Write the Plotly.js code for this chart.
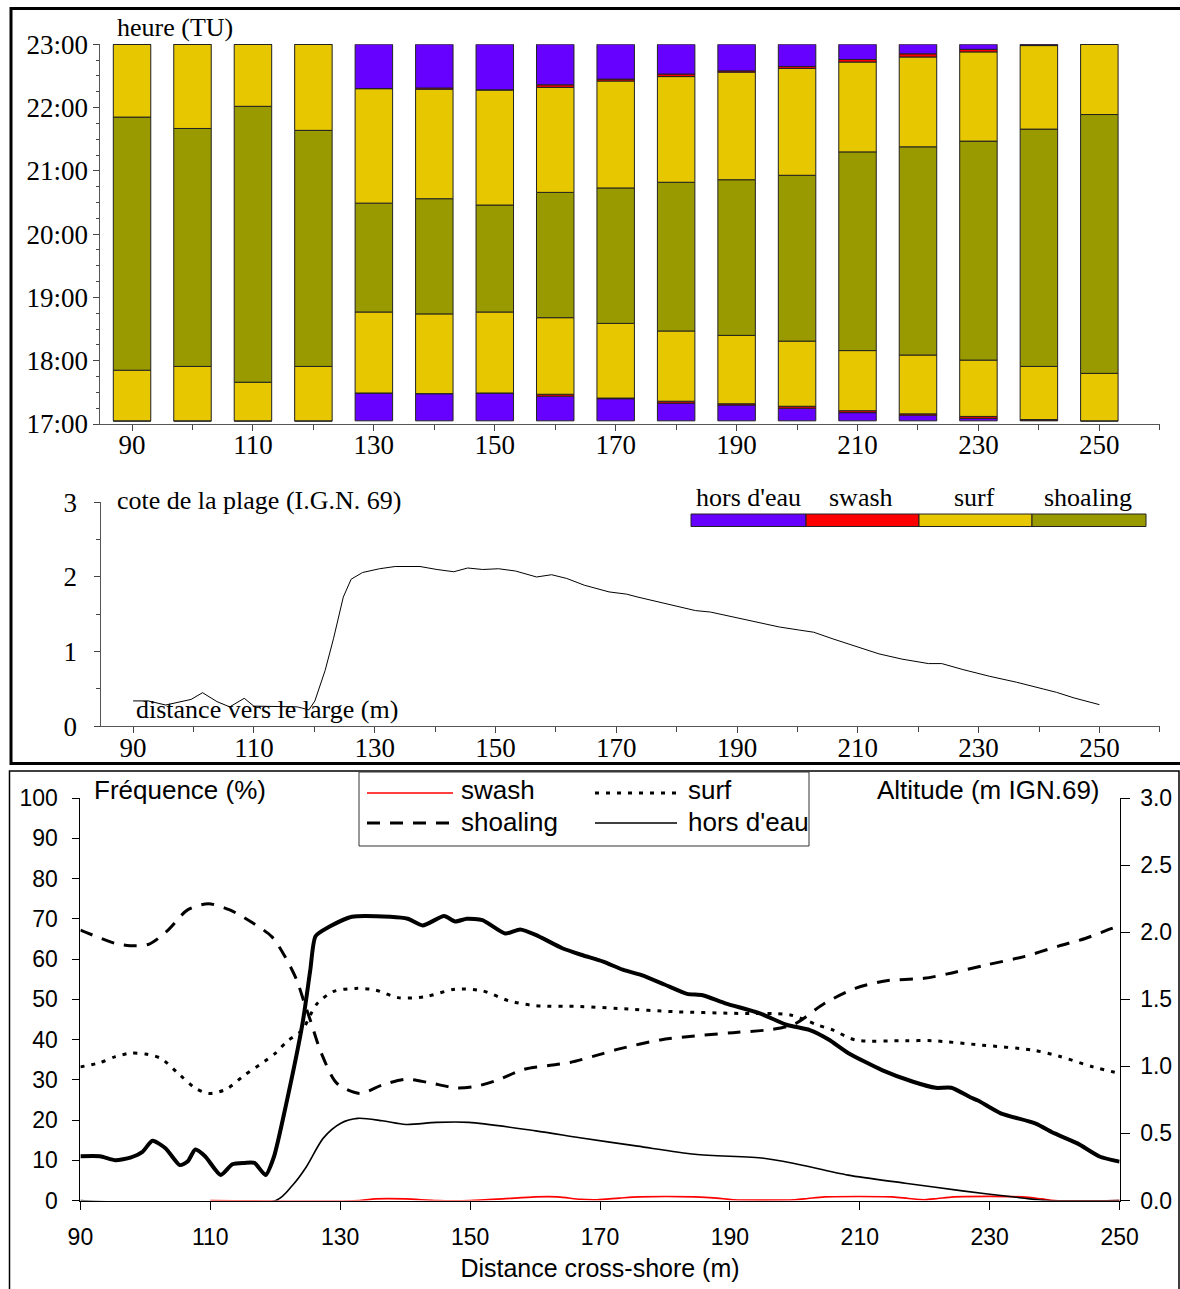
<!DOCTYPE html>
<html>
<head>
<meta charset="utf-8">
<script src="https://cdn.plot.ly/plotly-3.0.1.min.js"></script>
<style>html,body{margin:0;padding:0;background:#fff;}#chart{width:1180px;height:1289px;}</style>
</head>
<body>
<div id="chart"></div>
<script>
// ---------- DATA ----------
// Top panel: hydrodynamic zone sequence per cross-shore position (hours, decimal)
const distances = [90,100,110,120,130,140,150,160,170,180,190,200,210,220,230,240,250];
const distTickLabels = [90,110,130,150,170,190,210,230,250];
const hourTicks = [17,18,19,20,21,22,23];
const hourTickText = ['17:00','18:00','19:00','20:00','21:00','22:00','23:00'];
const tStart = 17.05;
const tEnd = 23.0;
const lowDryEnd   = [17.05,17.05,17.05,17.05,17.49,17.48,17.49,17.44,17.40,17.33,17.30,17.25,17.18,17.14,17.09,17.06,17.05];
const lowSwashEnd = [17.05,17.05,17.05,17.05,17.49,17.48,17.49,17.47,17.41,17.36,17.32,17.28,17.21,17.16,17.12,17.07,17.05];
const lowSurfEnd  = [17.85,17.91,17.66,17.91,18.77,18.74,18.77,18.68,18.59,18.47,18.40,18.31,18.16,18.09,18.01,17.91,17.80];
const shoalEnd    = [21.85,21.67,22.02,21.64,20.49,20.56,20.46,20.66,20.73,20.82,20.86,20.93,21.30,21.38,21.47,21.66,21.89];
const highSurfEnd = [23,23,23,23,22.30,22.29,22.28,22.32,22.42,22.49,22.56,22.62,22.72,22.80,22.88,22.98,23];
const highSwashEnd= [23,23,23,23,22.30,22.31,22.28,22.36,22.45,22.53,22.58,22.65,22.76,22.85,22.92,22.99,23];
const zoneNames = ["hors d'eau","swash","surf","shoaling"];

// Middle panel: beach profile (m IGN 69)
const profDist = [90,92.5,95.4,97.6,99.6,101.5,103.9,106.0,108.4,110.0,112.5,115.0,117.2,119.1,120.1,121.8,123.2,124.8,126.1,128.0,130.8,133.4,137.5,140.3,143.1,145.4,147.9,150.5,153.3,156.8,159.3,161.8,164.7,168.8,171.7,173.6,177.4,181.2,183.1,185.6,189.4,193.2,197.0,200.2,202.7,205.9,209.7,213.5,217.3,221.7,223.9,227.4,231.8,236.3,240.7,242.9,245.8,250.0];
const profElev = [0.34,0.34,0.285,0.32,0.36,0.45,0.33,0.26,0.375,0.27,0.27,0.27,0.26,0.22,0.34,0.75,1.18,1.73,1.97,2.06,2.11,2.14,2.14,2.10,2.07,2.12,2.10,2.11,2.08,2.00,2.03,1.98,1.89,1.80,1.77,1.73,1.655,1.58,1.55,1.53,1.46,1.40,1.33,1.29,1.26,1.17,1.07,0.97,0.90,0.84,0.84,0.76,0.67,0.59,0.50,0.455,0.38,0.29];

// Bottom panel: frequencies (%) and altitude (m IGN.69)
const swDist = [110,133,135.4,140,145,150,155,160,163.5,167,169.5,173,176,184.6,188,190.5,200,202,204.6,215,217.5,220,222,224.5,235,238,240,250];
const swVal  = [0,0,0.4,0.4,0,0,0.4,0.9,0.9,0.3,0.2,0.6,0.9,0.9,0.6,0.2,0.2,0.5,0.9,0.9,0.5,0.2,0.5,0.9,0.9,0.4,0,0];
const sfDist = [90,92.9,95.3,97.7,100.0,102.4,105.3,107.7,109.7,112.4,115.3,118.3,120.1,121.8,124.2,125.4,126.5,128.9,132.4,135.4,138.9,143.0,147.7,151.9,156.0,160.1,166.9,172.8,181.6,190.5,199.3,203.5,205.8,209.3,217.0,221.1,228.8,236.5,240.6,245.9,250];
const sfVal  = [33.2,34.2,35.7,36.6,36.4,35.3,31.2,27.9,26.6,27.6,31.2,34.5,36.7,39.5,42.4,46.1,49.0,51.9,52.7,52.3,50.4,50.6,52.5,52.1,49.6,48.4,48.2,47.7,46.9,46.5,46.1,43.6,42.4,39.9,39.7,39.7,38.6,37.4,35.9,33.2,31.6];
const shDist = [90,95.3,97.7,100.6,103.5,106.5,109.7,113.0,116.5,119.5,121.5,123.3,124.5,125.4,127.1,129.5,133.0,136.5,140.1,143.6,147.7,150.7,154.2,158.3,161.9,165.4,170.0,172.8,179.3,184.6,190.5,196.4,199.9,204.6,209.3,214.1,219.9,223.5,229.4,235.3,240.6,244.7,248.8,250];
const shVal  = [67.2,63.9,63.3,63.7,67.2,72.2,73.7,72.2,69.0,65.5,60.6,54.8,49.0,44.8,36.6,29.1,26.6,28.7,30.1,29.3,28.0,28.3,29.9,32.6,33.5,34.3,36.3,37.6,39.9,40.9,41.7,42.5,43.8,49.0,52.7,54.6,55.2,56.3,58.5,60.6,63.2,65.1,67.6,68.2];
const hdDist = [90,120.1,122.7,124.8,127.4,130.1,132.7,136.5,140.1,144.8,149.8,160.1,166.9,175.8,184.6,195.2,199.9,208.2,217.0,225.8,234.1,238.8,250];
const hdVal  = [0,0,3.85,8.4,15.5,19.2,20.4,19.8,18.9,19.4,19.4,17.3,15.6,13.5,11.5,10.5,9.2,6.3,4.3,2.4,0.8,0,0];
const altDist = [90,93,95.4,97.7,99.5,101.1,103.1,105.3,106.5,107.7,109.2,111.6,113.4,115.3,116.8,118.5,119.8,121.6,124.2,125.4,126.2,128.3,131.8,137.7,140.4,142.7,146.0,147.7,149.5,151.9,155.4,157.7,160.1,164.2,167.2,170.5,173.5,176.4,179.9,183.4,185.8,189.3,194.6,198.7,202.3,205.2,208.2,213.5,218.2,221.7,224.1,227.0,228.2,231.7,237.0,240.0,243.5,247.0,250.0];
const altElev = [0.33,0.33,0.30,0.32,0.36,0.445,0.39,0.264,0.29,0.38,0.33,0.19,0.27,0.28,0.28,0.19,0.326,0.70,1.32,1.72,1.97,2.04,2.115,2.115,2.10,2.05,2.12,2.08,2.10,2.09,1.99,2.02,1.98,1.88,1.83,1.78,1.72,1.68,1.61,1.54,1.53,1.47,1.395,1.31,1.27,1.20,1.10,0.97,0.885,0.84,0.84,0.77,0.745,0.65,0.575,0.50,0.426,0.326,0.29];

// ---------- STYLE / LAYOUT HELPERS ----------
const W = 1180, H = 1289;
const px = v => v / W;
const py = v => 1 - v / H;
const SERIF = 'Liberation Serif, Times New Roman, serif';
const SANS = 'Liberation Sans, Arial, sans-serif';
const C_DRY = '#6600FF', C_SW = '#FF0000', C_SURF = '#E6C700', C_SHOAL = '#999900';

// ---------- TRACES ----------
const traces = [];
const lower = [new Array(distances.length).fill(tStart), lowDryEnd, lowSwashEnd, lowSurfEnd, shoalEnd, highSurfEnd, highSwashEnd];
const upper = [lowDryEnd, lowSwashEnd, lowSurfEnd, shoalEnd, highSurfEnd, highSwashEnd, new Array(distances.length).fill(tEnd)];
const segColors = [C_DRY, C_SW, C_SURF, C_SHOAL, C_SURF, C_SW, C_DRY];
for (let s = 0; s < 7; s++) {
  traces.push({
    type: 'bar', x: distances,
    base: lower[s],
    y: upper[s].map((u, i) => u - lower[s][i]),
    width: 6.2,
    marker: {color: segColors[s], line: {color: '#222', width: 1}},
    xaxis: 'x', yaxis: 'y', showlegend: false, hoverinfo: 'skip'
  });
}
traces.push({type: 'scatter', mode: 'lines', x: profDist, y: profElev,
  line: {color: '#000', width: 1}, xaxis: 'x2', yaxis: 'y2', showlegend: false});

traces.push({type: 'scatter', mode: 'lines', x: swDist, y: swVal, name: 'swash',
  line: {color: C_SW, width: 1.6, shape: 'spline', smoothing: 0.8}, xaxis: 'x3', yaxis: 'y3', showlegend: false});
traces.push({type: 'scatter', mode: 'lines', x: hdDist, y: hdVal, name: "hors d'eau",
  line: {color: '#000', width: 1.6, shape: 'spline', smoothing: 0.8}, xaxis: 'x3', yaxis: 'y3', showlegend: false});
traces.push({type: 'scatter', mode: 'lines', x: sfDist, y: sfVal, name: 'surf',
  line: {color: '#000', width: 3, dash: '4px,7px', shape: 'spline', smoothing: 0.8}, xaxis: 'x3', yaxis: 'y3', showlegend: false});
traces.push({type: 'scatter', mode: 'lines', x: shDist, y: shVal, name: 'shoaling',
  line: {color: '#000', width: 3, dash: '13px,10px', shape: 'spline', smoothing: 0.8}, xaxis: 'x3', yaxis: 'y3', showlegend: false});
traces.push({type: 'scatter', mode: 'lines', x: altDist, y: altElev, name: 'Altitude',
  line: {color: '#000', width: 4, shape: 'spline', smoothing: 0.6}, xaxis: 'x3', yaxis: 'y4', showlegend: false});

// ---------- AXES ----------
const serifTick = {family: SERIF, size: 27, color: '#000'};
const sansTick = {family: SANS, size: 23, color: '#000'};
const topX = {
  range: [84.75, 260], tickmode: 'array', tickvals: distTickLabels, ticktext: distTickLabels.map(String),
  ticks: 'outside', ticklen: 6, tickcolor: '#444', showline: true, linecolor: '#555', linewidth: 1,
  showgrid: false, zeroline: false, tickfont: serifTick, ticklabelstandoff: -9,
  minor: {tickmode: 'linear', tick0: 90, dtick: 10, ticks: 'outside', ticklen: 5, tickcolor: '#444', showgrid: false}
};

const layout = {
  width: W, height: H, margin: {l: 0, r: 0, t: 0, b: 0},
  paper_bgcolor: '#fff', plot_bgcolor: 'rgba(0,0,0,0)',
  barmode: 'overlay', showlegend: false,
  xaxis: Object.assign({}, topX, {domain: [px(100.3), px(1159.8)], anchor: 'y'}),
  yaxis: {domain: [py(424), py(44.3)], anchor: 'x', range: [17, 23],
    tickmode: 'array', tickvals: hourTicks, ticktext: hourTickText,
    ticks: 'outside', ticklen: 6, tickcolor: '#444', showline: true, linecolor: '#555', linewidth: 1,
    showgrid: false, zeroline: false, tickfont: serifTick, ticklabelstandoff: 0,
    minor: {tickmode: 'linear', tick0: 17, dtick: 0.25, ticks: 'outside', ticklen: 3, tickcolor: '#444', showgrid: false}},
  xaxis2: Object.assign({}, topX, {domain: [px(101.4), px(1159.8)], anchor: 'y2'}),
  yaxis2: {domain: [py(726.3), py(502.3)], anchor: 'x2', range: [0, 3],
    tickmode: 'linear', tick0: 0, dtick: 1,
    ticks: 'outside', ticklen: 6, tickcolor: '#444', showline: true, linecolor: '#555', linewidth: 1,
    showgrid: false, zeroline: false, tickfont: serifTick, ticklabelstandoff: 12,
    minor: {tickmode: 'linear', tick0: 0, dtick: 0.5, ticks: 'outside', ticklen: 4, tickcolor: '#444', showgrid: false}},
  xaxis3: {domain: [px(80.4), px(1119.6)], anchor: 'y3', range: [90, 250],
    tickmode: 'linear', tick0: 90, dtick: 20,
    ticks: 'outside', ticklen: 8, tickcolor: '#000', showline: true, linecolor: '#000', linewidth: 1,
    showgrid: false, zeroline: false, tickfont: sansTick, ticklabelstandoff: 8,
    title: {text: 'Distance cross-shore (m)', font: {family: SANS, size: 25, color: '#000'}, standoff: 10}},
  yaxis3: {domain: [py(1200.5), py(798)], anchor: 'x3', range: [0, 100],
    tickmode: 'linear', tick0: 0, dtick: 10,
    ticks: 'outside', ticklen: 7, tickcolor: '#000', showline: true, linecolor: '#000', linewidth: 1,
    showgrid: false, zeroline: false, tickfont: sansTick, ticklabelstandoff: 10},
  yaxis4: {overlaying: 'y3', side: 'right', anchor: 'x3', range: [0, 3],
    tickmode: 'linear', tick0: 0, dtick: 0.5, tickformat: '.1f',
    ticks: 'outside', ticklen: 9, tickcolor: '#000', showline: true, linecolor: '#000', linewidth: 1,
    showgrid: false, zeroline: false, tickfont: sansTick, ticklabelstandoff: 6},
  yaxis5: {overlaying: 'y3', side: 'right', anchor: 'x3', range: [0, 3],
    tickmode: 'linear', tick0: 0, dtick: 0.5, ticks: 'inside', ticklen: 9, tickcolor: '#000',
    showticklabels: false, showline: false, showgrid: false, zeroline: false},
  shapes: [], annotations: []
};

// Frames
layout.shapes.push({type: 'rect', xref: 'paper', yref: 'paper', x0: px(11), x1: px(1200), y0: py(763.5), y1: py(8.5),
  line: {color: '#000', width: 3}, fillcolor: 'rgba(0,0,0,0)'});
layout.shapes.push({type: 'rect', xref: 'paper', yref: 'paper', x0: px(9.5), x1: px(1179), y0: py(1300), y1: py(771),
  line: {color: '#000', width: 1.5}, fillcolor: 'rgba(0,0,0,0)'});

// Top-chart zone legend (colour strip)
const legX = [691, 806, 919, 1032, 1146];
const legColors = [C_DRY, C_SW, C_SURF, C_SHOAL];
const legTextX = [748, 861, 974, 1088];
for (let i = 0; i < 4; i++) {
  layout.shapes.push({type: 'rect', xref: 'paper', yref: 'paper', x0: px(legX[i]), x1: px(legX[i + 1]),
    y0: py(526.5), y1: py(514), fillcolor: legColors[i], line: {color: '#222', width: 1}});
  layout.annotations.push({xref: 'paper', yref: 'paper', x: px(legTextX[i]), y: py(497), xanchor: 'center', yanchor: 'middle',
    text: zoneNames[i], showarrow: false, font: {family: SERIF, size: 26, color: '#000'}});
}

// Bottom legend box with line samples
layout.shapes.push({type: 'rect', xref: 'paper', yref: 'paper', x0: px(359), x1: px(809), y0: py(846), y1: py(772),
  line: {color: '#333', width: 1}, fillcolor: 'rgba(0,0,0,0)'});
const bLeg = [
  {name: 'swash', x0: 367, x1: 453, y: 793, tx: 459, ty: 790, line: {color: C_SW, width: 1.6}},
  {name: 'surf', x0: 595, x1: 677, y: 793, tx: 686, ty: 790, line: {color: '#000', width: 3, dash: '4px,7px'}},
  {name: 'shoaling', x0: 367, x1: 453, y: 823, tx: 459, ty: 822, line: {color: '#000', width: 3, dash: '13px,10px'}},
  {name: "hors d'eau", x0: 595, x1: 677, y: 823, tx: 686, ty: 822, line: {color: '#000', width: 1.6}}
];
bLeg.forEach(e => {
  layout.shapes.push({type: 'line', xref: 'paper', yref: 'paper', x0: px(e.x0), x1: px(e.x1), y0: py(e.y), y1: py(e.y), line: e.line});
  layout.annotations.push({xref: 'paper', yref: 'paper', x: px(e.tx), y: py(e.ty), xanchor: 'left', yanchor: 'middle',
    text: e.name, showarrow: false, font: {family: SANS, size: 26, color: '#000'}});
});

// Text labels
const ann = (text, x, y, anchor, fam, size) => layout.annotations.push({xref: 'paper', yref: 'paper', x: px(x), y: py(y),
  xanchor: anchor, yanchor: 'middle', text: text, showarrow: false, font: {family: fam, size: size, color: '#000'}});
ann('heure (TU)', 115, 27, 'left', SERIF, 26);
ann('cote de la plage (I.G.N. 69)', 115, 500, 'left', SERIF, 26);
ann('distance vers le large (m)', 134, 709, 'left', SERIF, 26);
ann('Fréquence (%)', 92, 790, 'left', SANS, 26);
ann('Altitude (m IGN.69)', 1102, 790, 'right', SANS, 26);

Plotly.newPlot('chart', traces, layout, {staticPlot: true, displayModeBar: false});
</script>
</body>
</html>
